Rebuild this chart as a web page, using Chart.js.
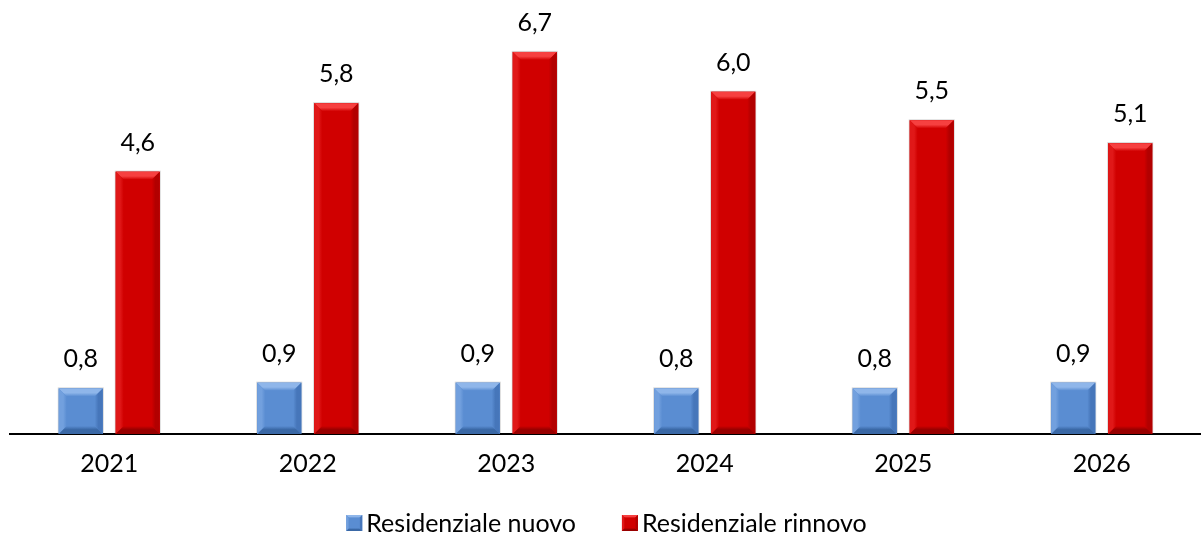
<!DOCTYPE html>
<html>
<head>
<meta charset="utf-8">
<script src="https://cdn.jsdelivr.net/npm/chart.js@4/dist/chart.umd.min.js"></script>
<style>
  html, body { margin: 0; padding: 0; background: #ffffff; }
  #wrap { width: 1201px; height: 542px; }
</style>
</head>
<body>
<div id="wrap"><canvas id="chart" width="1201" height="542"></canvas></div>
<script>
// Years on the category axis
const years = ['2021', '2022', '2023', '2024', '2025', '2026'];
// Values per series
const residenzialeNuovo = [0.8, 0.9, 0.9, 0.8, 0.8, 0.9];
const residenzialeRinnovo = [4.6, 5.8, 6.7, 6.0, 5.5, 5.1];
const seriesNames = ['Residenziale nuovo', 'Residenziale rinnovo'];

const FONT = 'Lato, "Open Sans", sans-serif';
const FONT_SIZE = 25;

// Bevel shades for each series: face, then outer-edge colour of each bevel
const shades = [
  { face: '#5a8dd2', top: '#8fb6ea', left: '#72a0de', right: '#4676ba', bottom: '#3a68a6' },
  { face: '#d00000', top: '#f64040', left: '#e01818', right: '#b20000', bottom: '#980000' }
];

function poly(ctx, pts, fill) {
  ctx.beginPath();
  ctx.moveTo(pts[0][0], pts[0][1]);
  for (let i = 1; i < pts.length; i++) ctx.lineTo(pts[i][0], pts[i][1]);
  ctx.closePath();
  ctx.fillStyle = fill;
  ctx.fill();
}

function grad(ctx, x0, y0, x1, y1, c0, c1) {
  const g = ctx.createLinearGradient(x0, y0, x1, y1);
  g.addColorStop(0, c0);
  g.addColorStop(0.55, c0);
  g.addColorStop(1, c1);
  return g;
}

function drawBevelBox(ctx, l, t, r, b, s, bev) {
  const w = r - l, h = b - t;
  const k = Math.min(bev, w / 3, h / 3);
  ctx.fillStyle = s.face;
  ctx.fillRect(l, t, w, h);
  poly(ctx, [[l, t], [r, t], [r - k, t + k], [l + k, t + k]], grad(ctx, 0, t, 0, t + k, s.top, s.face));
  poly(ctx, [[l, t], [l + k, t + k], [l + k, b - k], [l, b]], grad(ctx, l, 0, l + k, 0, s.left, s.face));
  poly(ctx, [[r, t], [r, b], [r - k, b - k], [r - k, t + k]], grad(ctx, r, 0, r - k, 0, s.right, s.face));
  poly(ctx, [[l, b], [l + k, b - k], [r - k, b - k], [r, b]], grad(ctx, 0, b, 0, b - k, s.bottom, s.face));
}

// Bevelled bars, value labels and the legend row
const bevelPlugin = {
  id: 'bevelBars',
  afterDatasetsDraw(chart) {
    const ctx = chart.ctx;
    ctx.save();
    chart.data.datasets.forEach((ds, di) => {
      const meta = chart.getDatasetMeta(di);
      meta.data.forEach((bar, i) => {
        const p = bar.getProps(['x', 'y', 'base', 'width'], true);
        const l = p.x - p.width / 2, r = p.x + p.width / 2;
        const t = p.y, b = p.base;
        // soft outline
        ctx.strokeStyle = 'rgba(0,0,0,0.16)';
        ctx.lineWidth = 1;
        ctx.strokeRect(l - 0.5, t - 0.5, r - l + 1, b - t + 1);
        drawBevelBox(ctx, l, t, r, b, shades[di], 8);
        // value label
        const v = ds.data[i];
        ctx.fillStyle = '#000000';
        ctx.font = FONT_SIZE + 'px ' + FONT;
        ctx.textAlign = 'center';
        ctx.textBaseline = 'middle';
        ctx.fillText(v.toFixed(1).replace('.', ','), p.x, t - 29);
      });
    });
    ctx.restore();
  },
  afterDraw(chart) {
    const ctx = chart.ctx;
    ctx.save();
    ctx.font = FONT_SIZE + 'px ' + FONT;
    ctx.textBaseline = 'middle';
    ctx.textAlign = 'left';
    const box = 16, gapText = 4, gapItem = 46;
    const widths = chart.data.datasets.map(d => ctx.measureText(d.label).width);
    let total = 0;
    widths.forEach((w, i) => { total += box + gapText + w + (i < widths.length - 1 ? gapItem : 0); });
    let x = chart.width / 2 + 6 - total / 2;
    const cy = 523;
    chart.data.datasets.forEach((d, i) => {
      drawBevelBox(ctx, x, cy - box / 2, x + box, cy + box / 2, shades[i], 3);
      ctx.fillStyle = '#000000';
      ctx.fillText(d.label, x + box + gapText, cy + 1);
      x += box + gapText + widths[i] + gapItem;
    });
    ctx.restore();
  }
};

new Chart(document.getElementById('chart'), {
  type: 'bar',
  data: {
    labels: years,
    datasets: [
      { label: seriesNames[0], data: residenzialeNuovo, backgroundColor: shades[0].face,
        categoryPercentage: 0.574, barPercentage: 0.772 },
      { label: seriesNames[1], data: residenzialeRinnovo, backgroundColor: shades[1].face,
        categoryPercentage: 0.574, barPercentage: 0.772 }
    ]
  },
  options: {
    responsive: false,
    animation: false,
    layout: { padding: { left: 10, right: 0, top: 0, bottom: 68 } },
    plugins: {
      legend: { display: false },
      tooltip: { enabled: false }
    },
    scales: {
      x: {
        grid: { display: false, drawTicks: false },
        border: { display: true, color: '#000000', width: 2 },
        ticks: { color: '#000000', font: { family: FONT, size: FONT_SIZE }, padding: 15 },
        afterFit(scale) { scale.height = 40; }
      },
      y: {
        display: false,
        min: 0,
        max: 7.61
      }
    }
  },
  plugins: [bevelPlugin]
});
</script>
</body>
</html>
